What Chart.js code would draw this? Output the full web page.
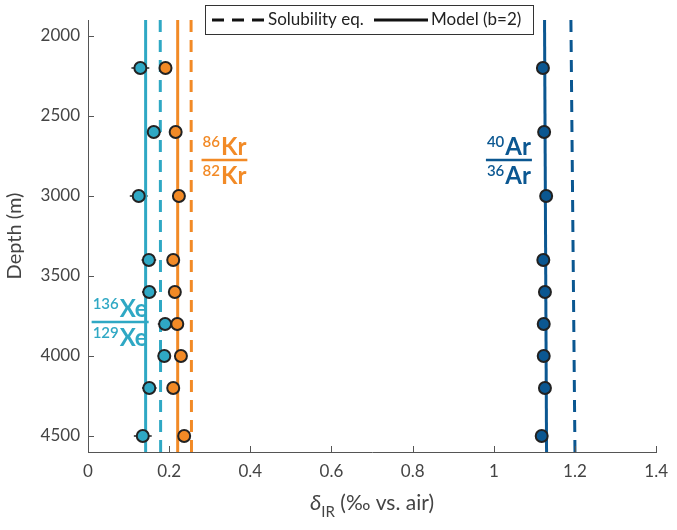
<!DOCTYPE html>
<html>
<head>
<meta charset="utf-8">
<script src="https://cdn.jsdelivr.net/npm/chart.js@4.4.1/dist/chart.umd.min.js"></script>
<style>
  html, body { margin: 0; padding: 0; background: #fff; }
  #wrap { width: 677px; height: 530px; position: relative; }
</style>
</head>
<body>
<div id="wrap"><canvas id="chart" width="677" height="530"></canvas></div>
<script>
// Sample depths (m)
const depths = [2200, 2600, 3000, 3400, 3600, 3800, 4000, 4200, 4500];

// Measured delta values (permil vs. air)
const xeValues = [0.129, 0.162, 0.125, 0.150, 0.151, 0.190, 0.188, 0.151, 0.135];
const krValues = [0.191, 0.216, 0.224, 0.210, 0.214, 0.220, 0.229, 0.210, 0.237];
const arValues = [1.121, 1.124, 1.129, 1.122, 1.126, 1.123, 1.123, 1.126, 1.118];

// Horizontal error bars (half width)
const xeErr = [0.022, 0.018, 0.022, 0.018, 0.018, 0.018, 0.016, 0.018, 0.022];
const krErr = [0.008, 0.008, 0.008, 0.008, 0.008, 0.008, 0.008, 0.008, 0.008];
const arErr = [0.006, 0.006, 0.006, 0.006, 0.006, 0.006, 0.006, 0.006, 0.006];

// Reference lines: value at top and bottom of the depth range
const lineDepths = [1900, 4600];
const xeModel = [0.142, 0.142];
const xeSolubility = [0.178, 0.179];
const krModel = [0.221, 0.221];
const krSolubility = [0.254, 0.255];
const arModel = [1.125, 1.130];
const arSolubility = [1.190, 1.200];

// Axis ticks
const xTicks = [0, 0.2, 0.4, 0.6, 0.8, 1, 1.2, 1.4];
const yTicks = [2000, 2500, 3000, 3500, 4000, 4500];

const CYAN = '#2FA8C4';
const ORANGE = '#F28A26';
const NAVY = '#0B5791';
const EDGE = '#222222';
const FONT = 'Lato, "DejaVu Sans", sans-serif';

function pts(xs, ys) {
    return xs.map((v, i) => ({ x: v, y: ys[i] }));
}

function lineSet(values, color, dashed) {
    return {
        type: 'line',
        data: pts(values, lineDepths),
        borderColor: color,
        borderWidth: 3,
        borderDash: dashed ? [12, 8] : [],
        pointRadius: 0,
        showLine: true,
        fill: false,
        order: 2
    };
}

function pointSet(values, errs, color) {
    return {
        type: 'scatter',
        data: pts(values, depths),
        errors: errs,
        backgroundColor: color,
        borderColor: EDGE,
        borderWidth: 2,
        pointRadius: 6,
        order: 1
    };
}

// Draw error bars under the points
const errorBars = {
    id: 'errorBars',
    beforeDatasetsDraw(chart) {
        const { ctx, scales: { x, y } } = chart;
        ctx.save();
        ctx.strokeStyle = EDGE;
        ctx.lineWidth = 1.5;
        chart.data.datasets.forEach(ds => {
            if (!ds.errors) return;
            ds.data.forEach((p, i) => {
                const py = y.getPixelForValue(p.y);
                ctx.beginPath();
                ctx.moveTo(x.getPixelForValue(p.x - ds.errors[i]), py);
                ctx.lineTo(x.getPixelForValue(p.x + ds.errors[i]), py);
                ctx.stroke();
            });
        });
        ctx.restore();
    }
};

// Isotope ratio label drawn as a stacked fraction
function drawFrac(ctx, cx, cy, topMass, botMass, el, color) {
    const supFont = '600 15px ' + FONT;
    const elFont = 'bold 24px ' + FONT;
    ctx.font = supFont;
    const wTop = ctx.measureText(topMass).width;
    const wBot = ctx.measureText(botMass).width;
    ctx.font = elFont;
    const wEl = ctx.measureText(el).width;
    const W = Math.max(wTop, wBot) + wEl;
    ctx.fillStyle = color;
    ctx.strokeStyle = color;
    ctx.textBaseline = 'alphabetic';
    ctx.textAlign = 'left';
    const left = cx - W / 2;
    // numerator
    ctx.font = supFont;
    ctx.fillText(topMass, left, cy - 13);
    ctx.font = elFont;
    ctx.fillText(el, left + wTop + 1, cy - 5);
    // denominator
    ctx.font = supFont;
    ctx.fillText(botMass, left, cy + 16);
    ctx.font = elFont;
    ctx.fillText(el, left + wBot + 1, cy + 24);
    ctx.lineWidth = 2.5;
    ctx.beginPath();
    ctx.moveTo(left - 1, cy);
    ctx.lineTo(left + W + 2, cy);
    ctx.stroke();
}

const decorations = {
    id: 'decorations',
    afterDraw(chart) {
        const { ctx, chartArea: a, scales: { x, y } } = chart;
        ctx.save();
        // inward ticks
        ctx.strokeStyle = '#555';
        ctx.lineWidth = 1;
        xTicks.forEach(v => {
            const px = Math.round(x.getPixelForValue(v)) + 0.5;
            ctx.beginPath();
            ctx.moveTo(px, a.bottom);
            ctx.lineTo(px, a.bottom - 6);
            ctx.stroke();
        });
        yTicks.forEach(v => {
            const py = Math.round(y.getPixelForValue(v)) + 0.5;
            ctx.beginPath();
            ctx.moveTo(a.left, py);
            ctx.lineTo(a.left + 6, py);
            ctx.stroke();
        });

        // axis titles
        ctx.fillStyle = '#444';
        ctx.textBaseline = 'alphabetic';
        ctx.font = '20px ' + FONT;
        ctx.save();
        ctx.translate(21, (a.top + a.bottom) / 2);
        ctx.rotate(-Math.PI / 2);
        ctx.textAlign = 'center';
        ctx.fillText('Depth (m)', 0, 0);
        ctx.restore();

        const cx = (a.left + a.right) / 2;
        const base = 510;
        const partD = 'δ';
        const partSub = 'IR';
        const partRest = ' (‰ vs. air)';
        ctx.font = 'italic 22px ' + FONT;
        const wD = ctx.measureText(partD).width;
        ctx.font = '15px ' + FONT;
        const wS = ctx.measureText(partSub).width;
        ctx.font = '21px ' + FONT;
        const wR = ctx.measureText(partRest).width;
        let sx = cx - (wD + wS + wR) / 2;
        ctx.textAlign = 'left';
        ctx.font = 'italic 22px ' + FONT;
        ctx.fillText(partD, sx, base);
        sx += wD;
        ctx.font = '15px ' + FONT;
        ctx.fillText(partSub, sx, base + 7);
        sx += wS;
        ctx.font = '21px ' + FONT;
        ctx.fillText(partRest, sx, base);

        // isotope ratio labels
        drawFrac(ctx, x.getPixelForValue(0.335), y.getPixelForValue(2775), '86', '82', 'Kr', ORANGE);
        drawFrac(ctx, x.getPixelForValue(1.036), y.getPixelForValue(2775), '40', '36', 'Ar', NAVY);
        drawFrac(ctx, x.getPixelForValue(0.078), y.getPixelForValue(3787), '136', '129', 'Xe', CYAN);

        // legend box
        const lx = 205, ly = 5, lw = 328, lh = 29;
        ctx.fillStyle = '#fff';
        ctx.fillRect(lx, ly, lw, lh);
        ctx.strokeStyle = '#333';
        ctx.lineWidth = 1;
        ctx.strokeRect(lx + 0.5, ly + 0.5, lw, lh);
        const my = ly + lh / 2 + 0.5;
        ctx.strokeStyle = '#111';
        ctx.lineWidth = 3;
        ctx.setLineDash([12, 8]);
        ctx.beginPath();
        ctx.moveTo(212, my);
        ctx.lineTo(264, my);
        ctx.stroke();
        ctx.setLineDash([]);
        ctx.beginPath();
        ctx.moveTo(374, my);
        ctx.lineTo(428, my);
        ctx.stroke();
        ctx.fillStyle = '#222';
        ctx.font = '17px ' + FONT;
        ctx.textBaseline = 'middle';
        ctx.fillText('Solubility eq.', 268, my);
        ctx.fillText('Model (b=2)', 431, my);
        ctx.restore();
    }
};

const datasets = [
    lineSet(xeModel, CYAN, false),
    lineSet(xeSolubility, CYAN, true),
    lineSet(krModel, ORANGE, false),
    lineSet(krSolubility, ORANGE, true),
    lineSet(arModel, NAVY, false),
    lineSet(arSolubility, NAVY, true),
    pointSet(xeValues, xeErr, CYAN),
    pointSet(krValues, krErr, ORANGE),
    pointSet(arValues, arErr, NAVY)
];

new Chart(document.getElementById('chart').getContext('2d'), {
    type: 'scatter',
    data: { datasets: datasets },
    options: {
        responsive: false,
        animation: false,
        layout: { padding: { top: 20, right: 19, left: 0, bottom: 0 } },
        plugins: {
            legend: { display: false },
            tooltip: { enabled: false }
        },
        scales: {
            x: {
                type: 'linear',
                min: 0,
                max: 1.4,
                afterBuildTicks: s => { s.ticks = xTicks.map(v => ({ value: v })); },
                afterFit: s => { s.height = 78; },
                grid: { display: true, drawOnChartArea: false, drawTicks: false },
                border: { display: true, color: '#555', width: 1 },
                ticks: {
                    padding: 9,
                    color: '#444',
                    font: { family: FONT, size: 17 },
                    callback: v => String(v)
                }
            },
            y: {
                type: 'linear',
                reverse: true,
                min: 1900,
                max: 4600,
                afterBuildTicks: s => { s.ticks = yTicks.map(v => ({ value: v })); },
                afterFit: s => { s.width = 88; },
                grid: { display: true, drawOnChartArea: false, drawTicks: false },
                border: { display: true, color: '#555', width: 1 },
                ticks: {
                    padding: 8,
                    color: '#444',
                    font: { family: FONT, size: 17 },
                    callback: v => String(v)
                }
            }
        }
    },
    plugins: [errorBars, decorations]
});
</script>
</body>
</html>
